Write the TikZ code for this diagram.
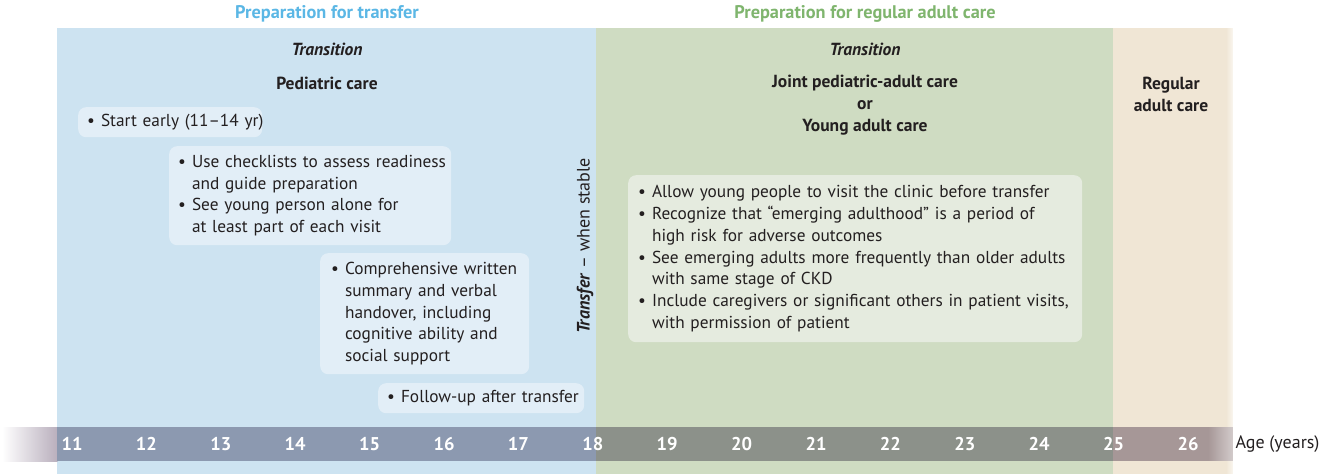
\documentclass[tikz,border=0pt]{standalone}
\usepackage{fontspec}
\setmainfont{PT Sans}
\definecolor{bgblue}{RGB}{205,227,241}
\definecolor{boxblue}{RGB}{226,238,247}
\definecolor{bggreen}{RGB}{207,220,194}
\definecolor{boxgreen}{RGB}{229,235,223}
\definecolor{bgbeige}{RGB}{240,230,213}
\definecolor{hdblue}{RGB}{91,183,229}
\definecolor{hdgreen}{RGB}{127,181,110}
\definecolor{barblue}{RGB}{140,153,176}
\definecolor{bargreen}{RGB}{140,145,138}
\definecolor{barbeige}{RGB}{166,151,151}
\definecolor{barfade}{RGB}{185,175,189}
\definecolor{txt}{RGB}{35,31,32}
\newcommand{\bl}{\makebox[0.8em][l]{\textbullet}}
\newcommand{\ind}{\hspace*{0.8em}}
\newcommand{\li}[1]{\mbox{\bl #1}}
\newcommand{\lc}[1]{\mbox{\ind #1}}
\tikzset{
  box/.style={rounded corners=8pt, anchor=north west, align=left, inner ysep=0pt,
    font=\fontsize{17.3}{21.8}\selectfont, text=txt},
  bluebox/.style={box, fill=boxblue},
  greenbox/.style={box, fill=boxgreen},
  hdr/.style={font=\fontsize{18.3}{20}\selectfont\bfseries},
  ttl/.style={font=\fontsize{17.5}{22}\selectfont\bfseries, text=txt, align=center},
  agenum/.style={font=\fontsize{18.5}{20}\selectfont\bfseries, text=white},
}
\begin{document}
\begin{tikzpicture}[x=1pt,y=-1pt]
\useasboundingbox (0,0) rectangle (1331,474);
% backgrounds
\fill[bgblue] (57,28) rectangle (596,474);
\fill[bggreen] (596,28) rectangle (1113,474);
\fill[bgbeige] (1113,28) rectangle (1226,474);
\foreach \i in {0,...,6}
  \pgfmathsetmacro{\p}{100-\i*9}
  \fill[bgbeige!\p!white] ({1226+\i},28) rectangle ({1227.3+\i},474);
% age bar
\shade[left color=white, right color=barfade] (2,427) rectangle (57.5,461);
\fill[barblue] (57,427) rectangle (596,461);
\fill[bargreen] (596,427) rectangle (1113,461);
\fill[barbeige] (1113,427) rectangle (1208,461);
\foreach \i in {0,...,24}
  \pgfmathsetmacro{\p}{100-\i*2}
  \fill[barbeige!\p!white] ({1208+\i},427) rectangle ({1209.3+\i},461);
\foreach \a in {11,...,26}
  \node[agenum] (n\a) at ({72+(\a-11)*74.4},444) {\a};
\node[font=\fontsize{18}{20}\selectfont, text=txt, anchor=west] (age) at (1232,444) {Age (years)};
% headers
\node[hdr, text=hdblue] (h1) at (327,14) {Preparation for transfer};
\node[hdr, text=hdgreen] (h2) at (865,14) {Preparation for regular adult care};
\node[ttl] (t1) at (327,49) {\itshape Transition};
\node[ttl] (t2) at (865,49) {\itshape Transition};
\node[ttl] (pc) at (327,83) {Pediatric care};
\node[ttl] (jc) at (865,105) {Joint pediatric-adult care\\or\\Young adult care};
\node[ttl] (rc) at (1171,94) {Regular\\adult care};
% vertical label
\node[rotate=90, font=\fontsize{18}{20}\selectfont, text=txt] (tr) at (585,246)
  {\textbf{\textit{Transfer}} – when stable};
% boxes
\node[bluebox, minimum width=184pt, minimum height=30pt, text width=166pt, inner xsep=9pt] (b1) at (78,107)
  {\li{Start early (11–14 yr)}};
\node[bluebox, minimum width=282pt, minimum height=99pt, text width=264pt, inner xsep=9pt] (b2) at (169,146)
  {\li{Use checklists to assess readiness}\\\lc{and guide preparation}\\\li{See young person alone for}\\\lc{at least part of each visit}};
\node[bluebox, minimum width=209pt, minimum height=121pt, text width=187pt, inner xsep=11pt] (b3) at (320,253)
  {\li{Comprehensive written}\\\lc{summary and verbal}\\\lc{handover, including}\\\lc{cognitive ability and}\\\lc{social support}};
\node[bluebox, minimum width=206pt, minimum height=30pt, text width=188pt, inner xsep=9pt] (b4) at (378,383)
  {\li{Follow-up after transfer}};
\node[greenbox, minimum width=454pt, minimum height=167pt, text width=434pt, inner xsep=10pt] (b5) at (628,175)
  {\li{Allow young people to visit the clinic before transfer}\\
   \li{Recognize that “emerging adulthood” is a period of}\\
   \lc{high risk for adverse outcomes}\\
   \li{See emerging adults more frequently than older adults}\\
   \lc{with same stage of CKD}\\
   \li{Include caregivers or significant others in patient visits,}\\
   \lc{with permission of patient}};
\end{tikzpicture}
\end{document}
